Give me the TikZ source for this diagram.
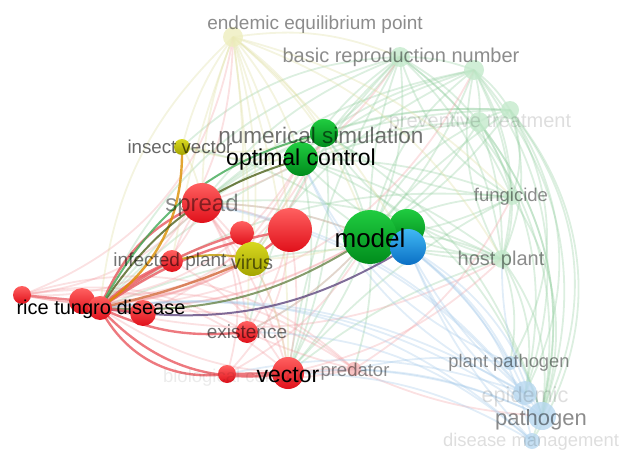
\documentclass[tikz,border=0pt]{standalone}
\usepackage{fontspec}
\setmainfont{Liberation Sans}
\usepackage{color}

\definecolor{vosred}{HTML}{E0101A}
\definecolor{vosredhi}{HTML}{FF6060}
\definecolor{vosgreen}{HTML}{008C1C}
\definecolor{vosgreenhi}{HTML}{20CC40}
\definecolor{vosblue}{HTML}{0A6FC4}
\definecolor{vosbluehi}{HTML}{40B8F4}
\definecolor{vosyellow}{HTML}{A4A400}
\definecolor{vosyellowhi}{HTML}{D8D820}
\definecolor{palered}{HTML}{F6B4B4}
\definecolor{palegreen}{HTML}{C4EACC}
\definecolor{paleblue}{HTML}{B8D8F0}
\definecolor{paleyellow}{HTML}{EEEEBE}

\begin{document}
\begin{tikzpicture}
      [x=1pt,y=-1pt,
      every node/.style={shape=circle,inner sep=0pt},
      kw/.style={minimum size=#1},
      redball/.style={top color=vosredhi,bottom color=vosred},
      greenball/.style={top color=vosgreenhi,bottom color=vosgreen},
      blueball/.style={top color=vosbluehi,bottom color=vosblue},
      yellowball/.style={top color=vosyellowhi,bottom color=vosyellow},
      faint/.style={fill=#1,fill opacity=.8},
      lbl/.style={shape=rectangle,text=black,text opacity=.45,
        font=\fontsize{#1}{#1}\selectfont},
      lbl/.default=19,
      rl/.style={draw=vosred!45!white,line width=1.8pt,opacity=.28},
      gl/.style={draw=vosgreen!45!white,line width=1.8pt,opacity=.3},
      bl/.style={draw=vosblue!40!white,line width=1.8pt,opacity=.3},
      yl/.style={draw=vosyellow!40!white,line width=1.8pt,opacity=.3},
      hub/.style={line width=2.4pt,opacity=.8}]
   \useasboundingbox (0,0) rectangle (624,452);

   % keywords, red cluster
   \coordinate (rtd) at (100,308);
   \coordinate (rtda) at (22,295);
   \coordinate (rtdb) at (82,301);
   \coordinate (rtdc) at (143,313);
   \coordinate (infplant) at (172,261);
   \coordinate (smallred) at (242,233);
   \coordinate (bigred) at (290,230);
   \coordinate (spread) at (202,203);
   \coordinate (exist) at (247,332);
   \coordinate (biocon) at (227,374);
   \coordinate (vector) at (288,373);
   \coordinate (predator) at (354,369);
   % green cluster
   \coordinate (model) at (370,237);
   \coordinate (modelb) at (407,227);
   \coordinate (optctrl) at (301,159);
   \coordinate (numsim) at (324,133);
   \coordinate (brn) at (400,57);
   \coordinate (brnb) at (474,70);
   \coordinate (prev) at (479,122);
   \coordinate (prevb) at (510,110);
   \coordinate (fungi) at (512,197);
   \coordinate (host) at (502,259);
   % yellow cluster
   \coordinate (ee) at (233,37);
   \coordinate (insect) at (182,147);
   \coordinate (virus) at (252,259);
   % blue cluster
   \coordinate (modelc) at (408,247);
   \coordinate (plantpath) at (510,363);
   \coordinate (epid) at (525,393);
   \coordinate (patho) at (542,416);
   \coordinate (dism) at (532,441);

   % weak links
   \foreach \a/\b/\c in {brn/model/15,brn/optctrl/-10,brn/numsim/10,brn/spread/-15,
      brn/rtd/-25,brn/virus/-10,brn/patho/32,brn/host/20,brn/fungi/15,brn/vector/-10,
      brn/prev/10,brnb/model/10,brnb/fungi/10,brnb/host/22,brnb/prev/10,brnb/patho/30,
      brnb/epid/28,brnb/optctrl/-10,brnb/numsim/-10,brnb/spread/-15,prev/model/10,
      prev/host/10,prev/fungi/10,prev/optctrl/-10,prev/patho/25,prev/epid/22,
      prev/dism/28,prev/rtd/-20,prevb/model/10,prevb/host/20,prevb/patho/32,
      prevb/dism/36,prevb/fungi/20,prevb/numsim/-10,prevb/epid/30,fungi/model/10,
      fungi/patho/25,fungi/host/10,fungi/optctrl/-10,fungi/rtd/-20,host/model/10,
      host/plantpath/15,host/patho/22,host/epid/20,host/optctrl/-10,host/rtd/-15,
      host/vector/-10,model/spread/-10,model/numsim/-10,model/vector/10,
      model/predator/10,model/insect/-15,model/exist/10,numsim/spread/-10,
      numsim/vector/15,optctrl/vector/15,numsim/patho/20,optctrl/patho/25,
      brn/insect/-20,prevb/spread/-20,fungi/vector/-10,host/spread/-15,
      brn/brnb/10,brnb/prevb/10,prev/prevb/10,brn/model/-10,brnb/model/-20,
      prev/model/-20,fungi/model/-15,host/model/-15,brn/exist/-15,prevb/vector/-15,
      prevb/rtd/-25,brnb/virus/-15,numsim/host/-20,optctrl/host/-20,
      numsim/fungi/-15,brn/fungi/-20,brnb/host/-20,prevb/plantpath/30}
      \draw[gl] (\a) to[bend left=\c] (\b);
   \foreach \a/\b/\c in {rtd/predator/-20,vector/predator/5,spread/vector/10,
      spread/bigred/10,bigred/vector/10,predator/patho/-10,biocon/predator/-10,
      exist/predator/-5,spread/model/10,rtd/host/-20,rtda/spread/-20,rtda/ee/-30,
      rtdb/virus/-10,rtd/model/-15,infplant/spread/10,virus/spread/10,
      rtd/numsim/-30,rtda/vector/25,rtda/infplant/-15,rtdb/bigred/-20,
      rtd/ee/-25,rtda/optctrl/-35,infplant/vector/15,exist/model/-10,
      biocon/model/-15,predator/fungi/-15,rtd/brnb/-30,rtdc/optctrl/-20,
      rtda/exist/20,rtdb/predator/25,vector/host/-15,spread/brn/-20,
      rtda/bigred/-25,rtda/model/-20,rtdb/spread/-30,rtda/virus/-20,
      rtdc/predator/20,biocon/bigred/-20,exist/spread/-15,vector/spread/-20,
      rtdb/numsim/-40,rtda/predator/30,exist/bigred/-10,biocon/spread/-25}
      \draw[rl] (\a) to[bend left=\c] (\b);
   \foreach \a/\b/\c in {patho/modelc/-20,epid/modelc/-15,plantpath/modelc/-10,
      dism/modelc/-20,patho/rtd/-20,epid/rtd/-18,patho/vector/-15,
      plantpath/predator/-10,patho/predator/-10,dism/vector/-15,dism/rtd/-25,
      patho/spread/-20,epid/spread/-20,patho/host/15,epid/optctrl/20,
      plantpath/optctrl/20,dism/exist/-20,epid/biocon/-15,patho/modelc/15,
      dism/modelc/10,epid/modelc/10}
      \draw[bl] (\a) to[bend left=\c] (\b);
   \foreach \a/\b/\c in {ee/spread/-10,ee/rtd/-20,ee/virus/10,ee/bigred/10,
      ee/model/15,ee/insect/-10,ee/vector/10,ee/numsim/10,ee/optctrl/10,
      ee/brn/15,ee/infplant/-5,ee/smallred/5,ee/host/20,ee/fungi/15,
      insect/spread/10,insect/optctrl/-10,insect/numsim/-15,virus/model/-10,
      virus/vector/10,virus/optctrl/-10,ee/exist/5,ee/modelc/10}
      \draw[yl] (\a) to[bend left=\c] (\b);

   % strong links from rice tungro disease
   \draw[hub,vosred!70!white] (rtd) to[bend left=22] (spread);
   \draw[hub,vosred!70!white] (rtd) to[bend left=12] (bigred);
   \draw[hub,vosred!70!white] (rtd) to[bend left=10] (smallred);
   \draw[hub,vosred!70!white] (rtd) to[bend left=10] (infplant);
   \draw[hub,vosred!60!vosyellow!80!white] (rtd) to[bend right=5] (virus);
   \draw[hub,orange!60!vosyellow] (rtd) to[bend right=28] (insect);
   \draw[hub,line width=2pt,vosyellow!70!orange] (infplant) to[bend left=12] (virus);
   \draw[hub,line width=2pt,vosgreen!65!vosred] (rtd) to[bend left=20] (optctrl);
   \draw[hub,line width=2pt,vosgreen!75!white] (rtd) to[bend left=24] (numsim);
   \draw[hub,line width=2pt,vosgreen!70!vosred!80!white] (rtd) to[bend right=18] (model);
   \draw[hub,line width=2pt,vosblue!60!vosred] (rtd) to[bend right=20] (modelc);
   \draw[hub,vosred!70!white] (rtd) to[bend right=15] (exist);
   \draw[hub,vosred!70!white] (rtd) to[bend right=35] (biocon);
   \draw[hub,vosred!70!white] (rtd) to[bend right=28] (vector);
   \draw[hub,vosred!70!white] (biocon) to (vector);
   \draw[hub,vosred!70!white] (rtd) to (rtdc);
   \draw[hub,vosred!60!white] (rtda) to (rtdb);
   \draw[hub,vosred!70!white] (virus) to (bigred);

   % pale keywords
   \node[kw=20pt,faint=paleyellow] (n-ee) at (ee) {};
   \node[kw=20pt,faint=palegreen] (n-brn) at (brn) {};
   \node[kw=20pt,faint=palegreen] (n-brnb) at (brnb) {};
   \node[kw=20pt,faint=palegreen] (n-prev) at (prev) {};
   \node[kw=18pt,faint=palegreen] (n-prevb) at (prevb) {};
   \node[kw=16pt,faint=palegreen] (n-fungi) at (fungi) {};
   \node[kw=18pt,faint=palegreen] (n-host) at (host) {};
   \node[kw=14pt,faint=palered] (n-predator) at (predator) {};
   \node[kw=14pt,faint=paleblue] (n-plantpath) at (plantpath) {};
   \node[kw=24pt,faint=paleblue] (n-epid) at (epid) {};
   \node[kw=28pt,faint=paleblue] (n-patho) at (patho) {};
   \node[kw=16pt,faint=paleblue] (n-dism) at (dism) {};

   % keyword spheres
   \node[kw=18pt,redball] (n-rtda) at (rtda) {};
   \node[kw=26pt,redball] (n-rtdb) at (rtdb) {};
   \node[kw=24pt,redball] (n-rtd) at (rtd) {};
   \node[kw=26pt,redball] (n-rtdc) at (rtdc) {};
   \node[kw=22pt,redball] (n-infplant) at (infplant) {};
   \node[kw=24pt,redball] (n-smallred) at (smallred) {};
   \node[kw=44pt,redball] (n-bigred) at (bigred) {};
   \node[kw=40pt,redball] (n-spread) at (spread) {};
   \node[kw=22pt,redball] (n-exist) at (exist) {};
   \node[kw=18pt,redball] (n-biocon) at (biocon) {};
   \node[kw=32pt,redball] (n-vector) at (vector) {};
   \node[kw=34pt,yellowball] (n-virus) at (virus) {};
   \node[kw=16pt,yellowball] (n-insect) at (insect) {};
   \node[kw=28pt,greenball] (n-numsim) at (numsim) {};
   \node[kw=34pt,greenball] (n-optctrl) at (optctrl) {};
   \node[kw=36pt,greenball] (n-modelb) at (modelb) {};
   \node[kw=54pt,greenball] (n-model) at (model) {};
   \node[kw=36pt,blueball] (n-modelc) at (modelc) {};

   % labels
   \node[lbl] (t-ee) at (315,25) {endemic equilibrium point};
   \node[lbl=20] (t-brn) at (401,57) {basic reproduction number};
   \node[lbl=20,text opacity=.13] (t-prev) at (480,122) {preventive treatment};
   \node[lbl=22.5,text opacity=.55] (t-numsim) at (321,135) {numerical simulation};
   \node[lbl=23,text opacity=1] (t-optctrl) at (301,160) {optimal control};
   \node[lbl=18.7,text opacity=.6] (t-insect) at (180,147) {insect vector};
   \node[lbl=24] (t-spread) at (202,205) {spread};
   \node[lbl=18.5] (t-fungi) at (511,197) {fungicide};
   \node[lbl=26,text opacity=1] (t-model) at (370,238) {model};
   \node[lbl=20] (t-host) at (501,260) {host plant};
   \node[lbl=19,text opacity=.55] (t-infplant) at (170,262) {infected plant};
   \node[lbl=20,text opacity=.55] (t-virus) at (252,262) {virus};
   \node[lbl=20,text opacity=1] (t-rtd) at (101,309) {rice tungro disease};
   \node[lbl=19,text opacity=.55] (t-exist) at (247,332) {existence};
   \node[lbl=18.5,text opacity=.08] (t-biocon) at (232,378) {biological control};
   \node[lbl=23,text opacity=1] (t-vector) at (288,375) {vector};
   \node[lbl=18.5] (t-predator) at (355,372) {predator};
   \node[lbl=18.3] (t-plantpath) at (509,363) {plant pathogen};
   \node[lbl=21.7,text opacity=.13] (t-epid) at (525,397) {epidemic};
   \node[lbl=22] (t-patho) at (541,420) {pathogen};
   \node[lbl=18.4,text opacity=.13] (t-dism) at (531,442) {disease management};
\end{tikzpicture}
\end{document}
